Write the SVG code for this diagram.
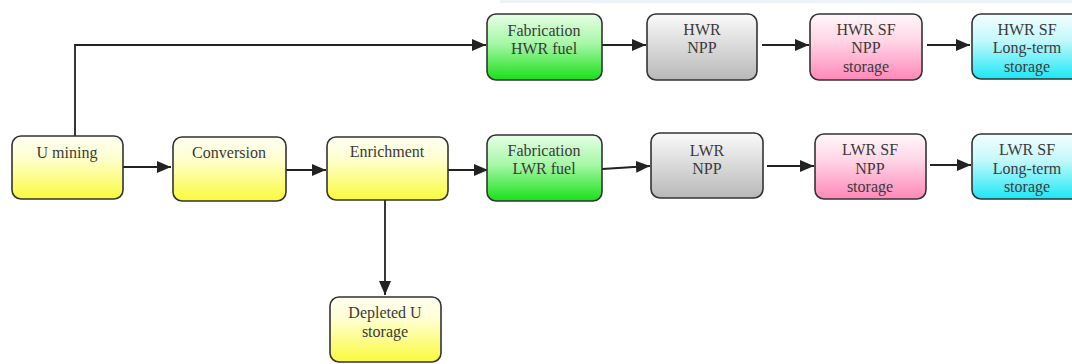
<svg xmlns="http://www.w3.org/2000/svg" width="1072" height="364" viewBox="0 0 1072 364">
  <style>
    .box { stroke: #333333; stroke-width: 1.6; }
    .lbl { font-family: "Liberation Serif", "Times New Roman", serif; font-size: 16px; fill: #3a3a3a; text-anchor: middle; }
    .wire { fill: none; stroke: #222222; stroke-width: 1.8; }
  </style>
  <defs>
    <linearGradient id="gYellow" x1="0" y1="0" x2="0" y2="1">
      <stop offset="0" stop-color="#fffff4"/>
      <stop offset="0.35" stop-color="#ffffd0"/>
      <stop offset="1" stop-color="#fafa3c"/>
    </linearGradient>
    <linearGradient id="gGreen" x1="0" y1="0" x2="0" y2="1">
      <stop offset="0" stop-color="#e6ffe6"/>
      <stop offset="0.45" stop-color="#a6f7a6"/>
      <stop offset="1" stop-color="#18e018"/>
    </linearGradient>
    <linearGradient id="gGray" x1="0" y1="0" x2="0" y2="1">
      <stop offset="0" stop-color="#fafafa"/>
      <stop offset="1" stop-color="#b8b8b8"/>
    </linearGradient>
    <linearGradient id="gPink" x1="0" y1="0" x2="0" y2="1">
      <stop offset="0" stop-color="#fff8fb"/>
      <stop offset="0.4" stop-color="#ffd6e6"/>
      <stop offset="1" stop-color="#ff88b8"/>
    </linearGradient>
    <linearGradient id="gCyan" x1="0" y1="0" x2="0" y2="1">
      <stop offset="0" stop-color="#f4ffff"/>
      <stop offset="0.4" stop-color="#c4f8fc"/>
      <stop offset="1" stop-color="#1ce8f6"/>
    </linearGradient>
    <marker id="arrow" viewBox="0 0 14 12" refX="14" refY="6" markerWidth="14" markerHeight="12" markerUnits="userSpaceOnUse" orient="auto">
      <path d="M0,0 L14,6 L0,12 Z" fill="#222222"/>
    </marker>
  </defs>

  <rect width="1072" height="364" fill="#ffffff"/>
  <rect x="500" y="0" width="572" height="3" fill="#eef3fa"/>

  <!-- connectors -->
  <g id="connectors">
    <path class="wire" d="M75,136 V45 H486" marker-end="url(#arrow)"/>
    <path class="wire" d="M123,167 H171" marker-end="url(#arrow)"/>
    <path class="wire" d="M286,170 H326" marker-end="url(#arrow)"/>
    <path class="wire" d="M448,170 H488" marker-end="url(#arrow)"/>
    <path class="wire" d="M385,200 V295" marker-end="url(#arrow)"/>
    <path class="wire" d="M602,45 H646" marker-end="url(#arrow)"/>
    <path class="wire" d="M762,45 H809" marker-end="url(#arrow)"/>
    <path class="wire" d="M927,45 H970" marker-end="url(#arrow)"/>
    <path class="wire" d="M602,169 L650,166" marker-end="url(#arrow)"/>
    <path class="wire" d="M767,166 H814" marker-end="url(#arrow)"/>
    <path class="wire" d="M930,165 H971" marker-end="url(#arrow)"/>
  </g>

  <!-- front end of the cycle -->
  <g id="u-mining">
    <rect class="box" x="12" y="136" width="111" height="63" rx="9" fill="url(#gYellow)"/>
    <text class="lbl" x="67" y="158">U mining</text>
  </g>
  <g id="conversion">
    <rect class="box" x="173" y="137" width="113" height="64" rx="9" fill="url(#gYellow)"/>
    <text class="lbl" x="229" y="158">Conversion</text>
  </g>
  <g id="enrichment">
    <rect class="box" x="327" y="137" width="121" height="63" rx="9" fill="url(#gYellow)"/>
    <text class="lbl" x="387" y="157">Enrichment</text>
  </g>
  <g id="depleted-u">
    <rect class="box" x="330" y="297" width="111" height="65" rx="9" fill="url(#gYellow)"/>
    <text class="lbl" x="385" y="318">Depleted U</text>
    <text class="lbl" x="385" y="337">storage</text>
  </g>

  <!-- heavy water reactor chain -->
  <g id="fab-hwr">
    <rect class="box" x="487" y="14" width="115" height="66" rx="9" fill="url(#gGreen)"/>
    <text class="lbl" x="544" y="36">Fabrication</text>
    <text class="lbl" x="544" y="54">HWR fuel</text>
  </g>
  <g id="hwr-npp">
    <rect class="box" x="647" y="14" width="110" height="66" rx="9" fill="url(#gGray)"/>
    <text class="lbl" x="702" y="35">HWR</text>
    <text class="lbl" x="702" y="53">NPP</text>
  </g>
  <g id="hwr-sf-npp">
    <rect class="box" x="810" y="14" width="112" height="66" rx="9" fill="url(#gPink)"/>
    <text class="lbl" x="866" y="35">HWR SF</text>
    <text class="lbl" x="866" y="53">NPP</text>
    <text class="lbl" x="866" y="72">storage</text>
  </g>
  <g id="hwr-sf-long">
    <rect class="box" x="972" y="14" width="110" height="65" rx="9" fill="url(#gCyan)"/>
    <text class="lbl" x="1027" y="35">HWR SF</text>
    <text class="lbl" x="1027" y="53">Long-term</text>
    <text class="lbl" x="1027" y="72">storage</text>
  </g>

  <!-- light water reactor chain -->
  <g id="fab-lwr">
    <rect class="box" x="487" y="135" width="115" height="66" rx="9" fill="url(#gGreen)"/>
    <text class="lbl" x="544" y="156">Fabrication</text>
    <text class="lbl" x="544" y="174">LWR fuel</text>
  </g>
  <g id="lwr-npp">
    <rect class="box" x="651" y="133" width="112" height="65" rx="9" fill="url(#gGray)"/>
    <text class="lbl" x="707" y="156">LWR</text>
    <text class="lbl" x="707" y="174">NPP</text>
  </g>
  <g id="lwr-sf-npp">
    <rect class="box" x="815" y="134" width="111" height="65" rx="9" fill="url(#gPink)"/>
    <text class="lbl" x="870" y="155">LWR SF</text>
    <text class="lbl" x="870" y="174">NPP</text>
    <text class="lbl" x="870" y="192">storage</text>
  </g>
  <g id="lwr-sf-long">
    <rect class="box" x="972" y="134" width="110" height="65" rx="9" fill="url(#gCyan)"/>
    <text class="lbl" x="1027" y="155">LWR SF</text>
    <text class="lbl" x="1027" y="174">Long-term</text>
    <text class="lbl" x="1027" y="192">storage</text>
  </g>
</svg>
